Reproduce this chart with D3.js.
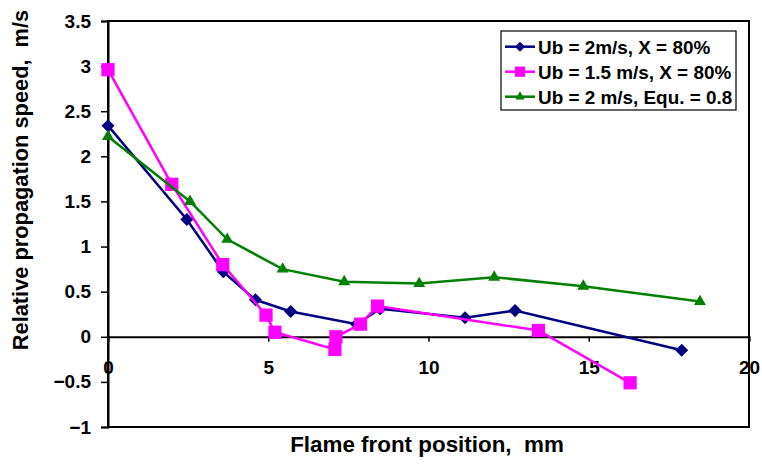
<!DOCTYPE html>
<html>
<head>
<meta charset="utf-8">
<script src="https://cdn.jsdelivr.net/npm/d3@7"></script>
<style>
  body { margin: 0; background: #fff; }
  text { font-family: "Liberation Sans", Arial, sans-serif; font-weight: bold; white-space: pre; }
</style>
</head>
<body>
<div id="chart"></div>
<script>
// data
const seriesNames = ["Ub = 2m/s, X = 80%", "Ub = 1.5 m/s, X = 80%", "Ub = 2 m/s, Equ. = 0.8"];
const blueX = [0, 2.46, 3.6, 4.6, 5.7, 7.76, 8.49, 11.14, 12.7, 17.9];
const blueY = [2.34, 1.30, 0.72, 0.41, 0.28, 0.14, 0.31, 0.21, 0.29, -0.15];
const pinkX = [0, 1.99, 3.58, 4.93, 5.21, 7.08, 7.11, 7.88, 8.41, 13.43, 16.29];
const pinkY = [2.96, 1.69, 0.80, 0.24, 0.05, -0.14, 0.0, 0.14, 0.34, 0.07, -0.51];
const greenX = [0, 2.56, 3.72, 5.45, 7.37, 9.71, 12.05, 14.83, 18.47];
const greenY = [2.22, 1.50, 1.08, 0.75, 0.61, 0.59, 0.66, 0.56, 0.39];
const xTicks = [0, 5, 10, 15, 20];
const yTicks = [-1, -0.5, 0, 0.5, 1, 1.5, 2, 2.5, 3, 3.5];

const width = 762, height = 467;
const margin = { top: 21, right: 13, bottom: 40, left: 108 };
const innerWidth = width - margin.left - margin.right;
const innerHeight = height - margin.top - margin.bottom;

const svg = d3.select("#chart").append("svg").attr("width", width).attr("height", height);
const g = svg.append("g").attr("transform", `translate(${margin.left}, ${margin.top})`);

const x = d3.scaleLinear().domain([0, 20]).range([0, innerWidth]);
const y = d3.scaleLinear().domain([-1, 3.5]).range([innerHeight, 0]);

// frame
g.append("rect").attr("width", innerWidth).attr("height", innerHeight)
  .attr("fill", "none").attr("stroke", "#000").attr("stroke-width", 2);

// y axis
const yAxis = g.append("g").call(d3.axisLeft(y).tickValues(yTicks).tickSize(7).tickFormat(d3.format("")));
yAxis.select(".domain").attr("stroke-width", 2);
yAxis.selectAll(".tick line").attr("stroke-width", 1.5);
yAxis.selectAll(".tick text").attr("font-size", 19).attr("x", -17).attr("fill", "#000");

// x axis crossing at y = 0
const xAxis = g.append("g").attr("transform", `translate(0, ${y(0)})`)
  .call(d3.axisBottom(x).tickValues(xTicks).tickSize(5).tickFormat(d3.format("")));
xAxis.select(".domain").attr("stroke-width", 2);
xAxis.selectAll(".tick line").attr("stroke-width", 1.5);
xAxis.selectAll(".tick text").attr("font-size", 19).attr("y", 24).attr("fill", "#000");

// axis titles
svg.append("text")
  .attr("transform", `translate(28, 180) rotate(-90)`)
  .attr("text-anchor", "middle").attr("font-size", 21.8)
  .text("Relative propagation speed,  m/s");
svg.append("text")
  .attr("x", 427).attr("y", 452)
  .attr("text-anchor", "middle").attr("font-size", 22.4)
  .text("Flame front position,  mm");

// diamonds are squares turned by 45 degrees
const series = [
  { name: seriesNames[0], xs: blueX, ys: blueY, color: "#000080", symbol: d3.symbolSquare, size: 85, rot: 45 },
  { name: seriesNames[1], xs: pinkX, ys: pinkY, color: "#FF00FF", symbol: d3.symbolSquare, size: 175, rot: 0 },
  { name: seriesNames[2], xs: greenX, ys: greenY, color: "#008000", symbol: d3.symbolTriangle, size: 62, rot: 0 }
];

const line = d3.line().x((d) => x(d[0])).y((d) => y(d[1]));

series.forEach((s) => {
  const pts = s.xs.map((v, i) => [v, s.ys[i]]);
  g.append("path").datum(pts).attr("d", line)
    .attr("fill", "none").attr("stroke", s.color).attr("stroke-width", 2.5);
  g.selectAll(null).data(pts).enter().append("path")
    .attr("d", d3.symbol().type(s.symbol).size(s.size))
    .attr("transform", (d) => `translate(${x(d[0])}, ${y(d[1])}) rotate(${s.rot})`)
    .attr("fill", s.color);
});

// legend
const legend = svg.append("g").attr("transform", "translate(501, 31)");
legend.append("rect").attr("width", 235).attr("height", 79)
  .attr("fill", "#fff").attr("stroke", "#000").attr("stroke-width", 1.2);
series.forEach((s, i) => {
  const row = legend.append("g").attr("transform", `translate(0, ${15.7 + i * 25})`);
  row.append("line").attr("x1", 4).attr("x2", 34).attr("stroke", s.color).attr("stroke-width", 2.5);
  row.append("path").attr("d", d3.symbol().type(s.symbol).size(s.size * 0.6))
    .attr("transform", `translate(19, 0) rotate(${s.rot})`).attr("fill", s.color);
  row.append("text").attr("x", 37).attr("y", 6.8).attr("font-size", 18.9).text(s.name);
});
</script>
</body>
</html>
